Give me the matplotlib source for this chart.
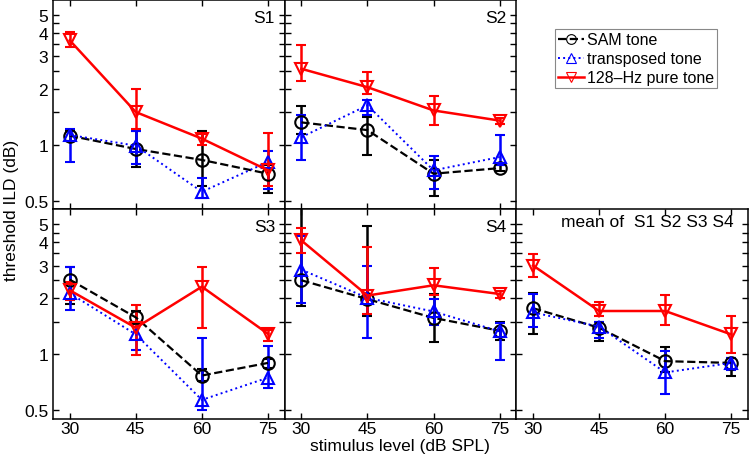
import matplotlib.pyplot as plt
from matplotlib.lines import Line2D
import numpy as np

plt.rcParams['font.family'] = ['Liberation Sans', 'DejaVu Sans']

levels = [30, 45, 60, 75]
panel_names = ['S1', 'S2', 'S3', 'S4', 'mean of  S1 S2 S3 S4']

# threshold ILD (dB); rows are S1, S2, S3, S4, mean
sam = [[1.12, 0.95, 0.83, 0.70],
       [1.32, 1.20, 0.70, 0.75],
       [2.52, 1.58, 0.77, 0.90],
       [2.50, 1.98, 1.57, 1.34],
       [1.77, 1.39, 0.92, 0.90]]
sam_lo = [[1.05, 0.76, 0.60, 0.55],
          [1.15, 0.88, 0.53, 0.72],
          [1.87, 1.45, 0.72, 0.85],
          [1.81, 1.60, 1.17, 1.20],
          [1.29, 1.18, 0.80, 0.77]]
sam_hi = [[1.18, 1.19, 1.19, 0.78],
          [1.61, 1.41, 0.83, 0.78],
          [2.95, 1.70, 0.83, 0.95],
          [8.00, 4.90, 2.12, 1.49],
          [2.13, 1.50, 1.09, 0.96]]

trans = [[1.13, 0.99, 0.56, 0.81],
         [1.10, 1.63, 0.73, 0.86],
         [2.13, 1.28, 0.57, 0.75],
         [2.85, 2.01, 1.70, 1.33],
         [1.68, 1.41, 0.80, 0.90]]
trans_lo = [[0.81, 0.79, 0.52, 0.58],
            [0.83, 1.44, 0.58, 0.78],
            [1.73, 1.05, 0.50, 0.66],
            [1.88, 1.23, 1.44, 0.93],
            [1.41, 1.23, 0.61, 0.82]]
trans_hi = [[1.22, 1.19, 0.66, 0.93],
            [1.44, 1.75, 0.87, 1.13],
            [2.95, 1.49, 1.23, 1.11],
            [4.30, 2.98, 1.98, 1.48],
            [2.10, 1.50, 1.04, 0.96]]

pure = [[3.64, 1.50, 1.08, 0.73],
        [2.56, 2.04, 1.53, 1.35],
        [2.21, 1.39, 2.31, 1.29],
        [4.09, 2.07, 2.35, 2.11],
        [3.00, 1.71, 1.71, 1.28]]
pure_lo = [[3.36, 1.21, 1.00, 0.60],
           [2.19, 1.88, 1.28, 1.30],
           [1.95, 0.99, 1.39, 1.18],
           [3.51, 1.64, 2.08, 2.00],
           [2.60, 1.60, 1.44, 1.02]]
pure_hi = [[4.04, 2.00, 1.15, 1.16],
           [3.42, 2.46, 1.83, 1.40],
           [2.45, 1.84, 2.95, 1.36],
           [4.80, 3.77, 2.92, 2.20],
           [3.46, 1.90, 2.08, 1.60]]

ytick_vals = [0.5, 1, 1.5, 2, 2.5, 3, 3.5, 4, 4.5, 5]
ytick_text = ['0.5', '1', '', '2', '', '3', '', '4', '', '5']

conds = [
    ('SAM tone', sam, sam_lo, sam_hi, 'black', '--', 'o', 1.6),
    ('transposed tone', trans, trans_lo, trans_hi, 'blue', ':', '^', 1.4),
    ('128\u2013Hz pure tone', pure, pure_lo, pure_hi, 'red', '-', 'v', 1.8),
]

fig, axes = plt.subplots(2, 3, figsize=(7.51, 4.56), dpi=100, sharex=True, sharey=True)
fig.subplots_adjust(left=53/751, right=748/751, bottom=1-420/456, top=0.998,
                    wspace=0, hspace=0)
axes[0, 2].remove()
panel_axes = [axes[0, 0], axes[0, 1], axes[1, 0], axes[1, 1], axes[1, 2]]

for i, ax in enumerate(panel_axes):
    for name, val, lo, hi, col, ls, mk, lw in conds:
        v = np.array(val[i])
        err = [v - np.array(lo[i]), np.array(hi[i]) - v]
        ax.errorbar(levels, v, yerr=err, color=col, ls=ls, lw=lw,
                    marker=mk, ms=9, mfc='none', mec=col, mew=1.5,
                    elinewidth=1.8, capsize=3.5, capthick=1.5)
    ax.set_yscale('log')
    ax.set_ylim(0.45, 6.0)
    ax.set_xlim(26.2, 78.8)
    ax.set_xticks(levels)
    ax.set_yticks(ytick_vals)
    ax.set_yticklabels(ytick_text)
    ax.minorticks_off()
    ax.tick_params(direction='in', top=True, right=True, length=4, width=1,
                   labelsize=12.5)
    ax.tick_params(axis='x', pad=1.5)
    for s in ax.spines.values():
        s.set_linewidth(1.1)
    off = -3 if i == 4 else -7
    ax.annotate(panel_names[i], xy=(1, 1), xycoords='axes fraction',
                xytext=(-7 if i < 4 else -10, off), textcoords='offset points',
                ha='right', va='top', fontsize=12.5)

fig.text(400/751, 1-447/456, 'stimulus level (dB SPL)', ha='center', va='center',
         fontsize=12.5)
fig.text(12/751, 1-210/456, 'threshold ILD (dB)', ha='center', va='center',
         rotation=90, fontsize=12.5)

handles = [Line2D([], [], color=c[4], ls=c[5], lw=c[7], marker=c[6], ms=7,
                  mfc='none', mec=c[4], mew=0.8) for c in conds]
leg = fig.legend(handles, [c[0] for c in conds], loc='upper left',
                 bbox_to_anchor=(555/751, 1-30/456), fontsize=11.5,
                 handlelength=1.6, handletextpad=0.2, labelspacing=0.25,
                 borderpad=0.2, borderaxespad=0, fancybox=False, framealpha=1)
leg.get_frame().set_edgecolor('#888888')
leg.get_frame().set_linewidth(0.8)

fig.savefig('out.png', dpi=100)
